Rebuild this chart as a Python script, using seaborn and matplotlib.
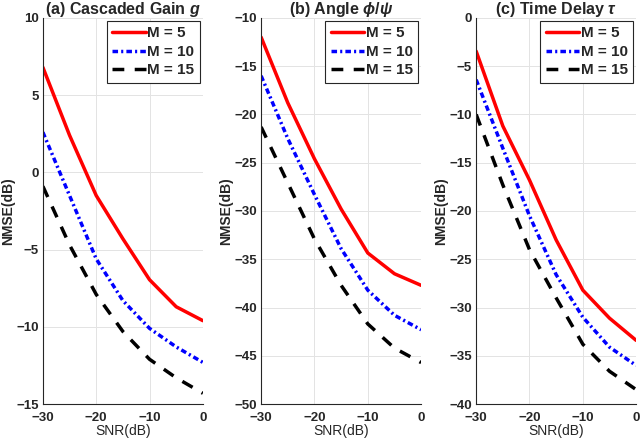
import matplotlib
matplotlib.use("Agg")
import matplotlib.pyplot as plt
import seaborn as sns
import pandas as pd

snr = [-30, -25, -20, -15, -10, -5, 0]
series_labels = ["M = 5", "M = 10", "M = 15"]

gain_m5 = [6.8, 2.4, -1.5, -4.3, -6.95, -8.7, -9.6]
gain_m10 = [2.6, -1.5, -5.6, -8.3, -10.1, -11.3, -12.3]
gain_m15 = [-0.9, -4.7, -7.9, -10.3, -12.1, -13.3, -14.3]

angle_m5 = [-12.0, -18.8, -24.6, -29.8, -34.35, -36.5, -37.7]
angle_m10 = [-16.0, -22.5, -28.3, -33.9, -38.2, -40.8, -42.3]
angle_m15 = [-21.3, -27.1, -32.9, -37.7, -41.7, -44.2, -45.7]

delay_m5 = [-3.45, -11.2, -16.8, -23.0, -28.2, -31.1, -33.4]
delay_m10 = [-6.4, -13.5, -20.5, -26.6, -31.0, -34.1, -36.0]
delay_m15 = [-10.0, -17.3, -24.0, -29.0, -33.8, -36.6, -38.5]

titles = [r"(a) Cascaded Gain $g$", r"(b) Angle $\phi/\psi$", r"(c) Time Delay $\tau$"]
ylims = [(-15, 10), (-50, -10), (-40, 0)]
yticks = [list(range(-15, 11, 5)), list(range(-50, -9, 5)), list(range(-40, 1, 5))]
xticks = [-30, -20, -10, 0]

sns.set_theme(style="white")
plt.rcParams["font.family"] = ["Liberation Sans", "DejaVu Sans"]
plt.rcParams["mathtext.fontset"] = "custom"
plt.rcParams["mathtext.it"] = "Liberation Sans:italic:bold"
plt.rcParams["mathtext.rm"] = "Liberation Sans:bold"

fig = plt.figure(figsize=(6.4, 4.47), dpi=100)
lefts = [0.067, 0.408, 0.744]
width = 0.25
bottom = 0.096
height = 0.864

panels = [
    (gain_m5, gain_m10, gain_m15),
    (angle_m5, angle_m10, angle_m15),
    (delay_m5, delay_m10, delay_m15),
]

palette = {"M = 5": "#ff0000", "M = 10": "#0000ff", "M = 15": "#000000"}
dashes = {"M = 5": "", "M = 10": (1.6, 0.9, 0.6, 0.9), "M = 15": (3.4, 3.0)}

for i, (vals, left) in enumerate(zip(panels, lefts)):
    ax = fig.add_axes([left, bottom, width, height])
    rows = []
    for lab, ys in zip(series_labels, vals):
        for x, y in zip(snr, ys):
            rows.append({"SNR": x, "NMSE": y, "M": lab})
    df = pd.DataFrame(rows)
    sns.lineplot(data=df, x="SNR", y="NMSE", hue="M", style="M",
                 hue_order=series_labels, style_order=series_labels,
                 palette=palette, dashes=dashes, linewidth=2.5, ax=ax,
                 legend=True)
    ax.set_xlim(-30, 0)
    ax.set_ylim(*ylims[i])
    ax.set_xticks(xticks)
    ax.set_yticks(yticks[i])
    ax.grid(True, color="#e3e3e3", linewidth=0.7)
    ax.set_axisbelow(True)
    for s in ["top", "right"]:
        ax.spines[s].set_visible(False)
    for s in ["left", "bottom"]:
        ax.spines[s].set_color("#262626")
        ax.spines[s].set_linewidth(0.8)
    ax.tick_params(axis="both", direction="in", length=3, width=0.8,
                   colors="#262626", labelsize=9.5)
    ax.tick_params(axis="x", pad=6)
    ax.tick_params(axis="y", pad=3)
    for lbl in ax.get_xticklabels() + ax.get_yticklabels():
        lbl.set_fontweight("bold")
    ax.set_xlabel("SNR(dB)", fontsize=10, color="#262626", labelpad=0)
    ax.set_ylabel("NMSE(dB)", fontsize=10, fontweight="bold", color="#262626", labelpad=1)
    ax.set_title(titles[i], fontsize=11.5, fontweight="bold", pad=3)
    handles, labels = ax.get_legend_handles_labels()
    leg = ax.legend(handles, labels, loc="upper right",
                    prop={"weight": "bold", "size": 11},
                    handlelength=2.2, handletextpad=0.1, labelspacing=0.3,
                    borderpad=0.35, borderaxespad=0.2, fancybox=False,
                    framealpha=1, edgecolor="#262626")
    leg.get_frame().set_linewidth(0.8)

fig.savefig("out.png", dpi=100)
